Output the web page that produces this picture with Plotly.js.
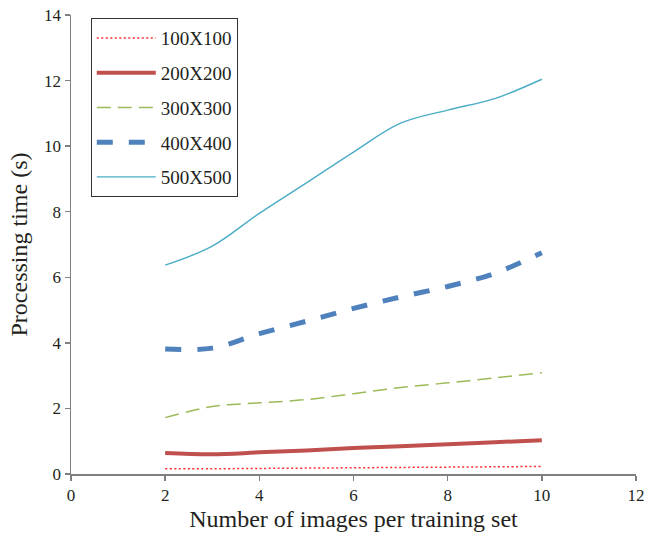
<!DOCTYPE html>
<html>
<head>
<meta charset="utf-8">
<script src="https://cdn.plot.ly/plotly-3.0.1.min.js"></script>
<style>html,body{margin:0;padding:0;background:#fff;}#chart{width:650px;height:534px;}</style>
</head>
<body>
<div id="chart"></div>
<script>
const xValues = [2, 3, 4, 5, 6, 7, 8, 9, 10];
const seriesNames = ["100X100", "200X200", "300X300", "400X400", "500X500"];
const s100 = [0.16, 0.16, 0.17, 0.18, 0.19, 0.20, 0.21, 0.22, 0.23];
const s200 = [0.64, 0.60, 0.66, 0.72, 0.79, 0.85, 0.91, 0.97, 1.03];
const s300 = [1.72, 2.06, 2.17, 2.27, 2.45, 2.64, 2.78, 2.93, 3.09];
const s400 = [3.81, 3.84, 4.28, 4.66, 5.05, 5.40, 5.72, 6.12, 6.75];
const s500 = [6.37, 6.95, 7.95, 8.88, 9.82, 10.7, 11.1, 11.45, 12.04];
const xTicks = [0, 2, 4, 6, 8, 10, 12];
const yTicks = [0, 2, 4, 6, 8, 10, 12, 14];

const styles = [
  {color: "#ff2a2a", width: 1.5, dash: "2px,2.5px"},
  {color: "#c0504d", width: 4, dash: "solid"},
  {color: "#9bbb59", width: 1.5, dash: "14px,7px"},
  {color: "#4f81bd", width: 5, dash: "16px,16px"},
  {color: "#4bacc6", width: 1.4, dash: "solid"}
];
const allSeries = [s100, s200, s300, s400, s500];

const traces = allSeries.map((ys, i) => ({
  x: xValues, y: ys, name: seriesNames[i], type: "scatter", mode: "lines",
  legendgroup: "g" + i,
  line: {color: styles[i].color, width: styles[i].width, dash: styles[i].dash, shape: "spline", smoothing: 1}
}));

const font = {family: "Liberation Serif, Times New Roman, serif", color: "#231f20"};
const layout = {
  width: 650, height: 534,
  margin: {l: 71, r: 14, t: 15, b: 60},
  paper_bgcolor: "#fff", plot_bgcolor: "#fff",
  font: Object.assign({size: 17}, font),
  showlegend: true,
  legend: {
    x: 0.035, y: 0.993, xanchor: "left", yanchor: "top",
    bordercolor: "#333", borderwidth: 1, bgcolor: "#fff",
    traceorder: "grouped", tracegroupgap: 7, itemwidth: 59,
    font: Object.assign({size: 19}, font)
  },
  xaxis: {
    range: [0, 12], tickvals: xTicks, ticktext: xTicks.map(String),
    showgrid: false, zeroline: false, showline: true, linecolor: "#7f7f7f", linewidth: 1.5,
    ticks: "outside", ticklen: 5, tickcolor: "#7f7f7f", tickwidth: 1.5,
    tickfont: Object.assign({size: 17}, font),
    title: {text: "Number of images per training set", font: Object.assign({size: 24}, font), standoff: 6}
  },
  yaxis: {
    range: [0, 14], tickvals: yTicks, ticktext: yTicks.map(String),
    showgrid: false, zeroline: false, showline: true, linecolor: "#7f7f7f", linewidth: 1.5,
    ticks: "outside", ticklen: 5, tickcolor: "#7f7f7f", tickwidth: 1.5,
    tickfont: Object.assign({size: 17}, font),
    title: {text: "Processing time (s)", font: Object.assign({size: 24}, font), standoff: 9}
  }
};
Plotly.newPlot("chart", traces, layout, {displayModeBar: false, staticPlot: true});
</script>
</body>
</html>
